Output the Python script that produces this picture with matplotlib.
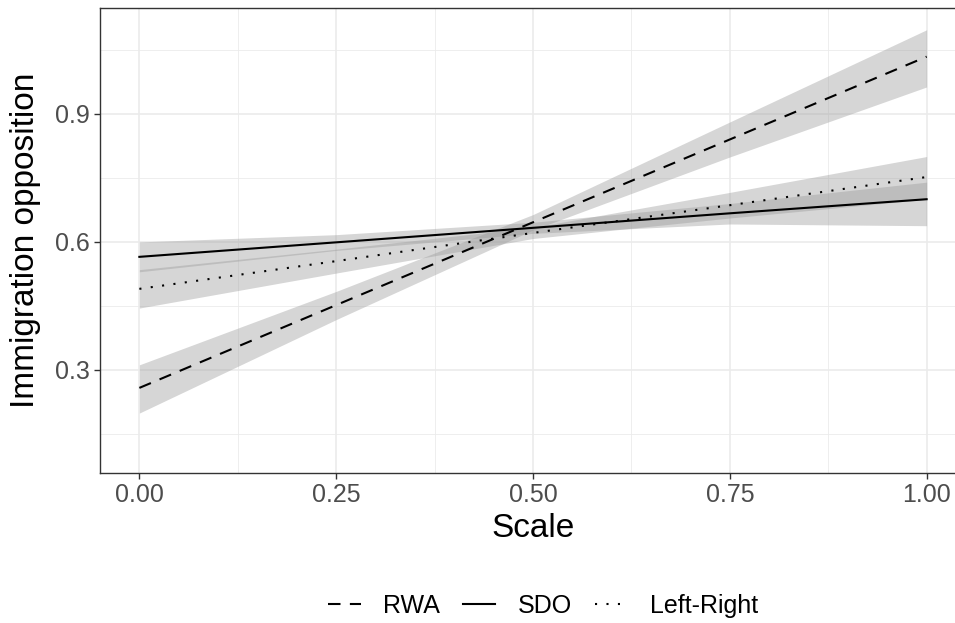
import numpy as np
import matplotlib
matplotlib.use("Agg")
import matplotlib.pyplot as plt
from matplotlib.lines import Line2D

plt.rcParams['font.family'] = ['Liberation Sans', 'DejaVu Sans']

# predicted values
x = [0.0, 0.25, 0.5, 0.75, 1.0]
rwa_fit = [0.258, 0.452, 0.646, 0.840, 1.034]
rwa_lo = [0.199, 0.418, 0.628, 0.799, 0.963]
rwa_hi = [0.312, 0.484, 0.664, 0.881, 1.097]
sdo_fit = [0.565, 0.599, 0.633, 0.667, 0.700]
sdo_lo = [0.530, 0.580, 0.620, 0.642, 0.638]
sdo_hi = [0.600, 0.617, 0.646, 0.690, 0.740]
lr_fit = [0.490, 0.555, 0.621, 0.686, 0.752]
lr_lo = [0.445, 0.527, 0.608, 0.656, 0.700]
lr_hi = [0.535, 0.583, 0.634, 0.716, 0.800]

x_ticks = [0.0, 0.25, 0.5, 0.75, 1.0]
x_labels = ["0.00", "0.25", "0.50", "0.75", "1.00"]
y_ticks = [0.3, 0.6, 0.9]
y_labels = ["0.3", "0.6", "0.9"]

DASHED = (0, (6, 4.5))
DOTTED = (0, (1, 4.5))

fig = plt.figure(figsize=(9.55, 6.23), dpi=100)
ax = fig.add_axes([100 / 955, 1 - 473 / 623, 866 / 955, 465 / 623])

for lo, hi in [(rwa_lo, rwa_hi), (sdo_lo, sdo_hi), (lr_lo, lr_hi)]:
    ax.fill_between(x, lo, hi, color="0.6", alpha=0.4, linewidth=0, zorder=2)

ax.plot(x, rwa_fit, color="black", lw=1.5, linestyle=DASHED, zorder=3)
ax.plot(x, sdo_fit, color="black", lw=1.5, linestyle="-", zorder=3)
ax.plot(x, lr_fit, color="black", lw=1.5, linestyle=DOTTED, zorder=3)

ax.set_xlim(-0.05, 1.05)
ax.set_ylim(0.0586, 1.148)
ax.set_xticks(x_ticks)
ax.set_xticklabels(x_labels)
ax.set_yticks(y_ticks)
ax.set_yticklabels(y_labels)
ax.set_xticks([0.125, 0.375, 0.625, 0.875], minor=True)
ax.set_yticks([0.15, 0.45, 0.75, 1.05], minor=True)

ax.grid(which="major", color="#ebebeb", lw=1.2, zorder=0)
ax.grid(which="minor", color="#ebebeb", lw=0.6, zorder=0)
ax.set_axisbelow(True)
ax.tick_params(which="major", length=4.5, width=1, color="#333333",
               labelsize=18, labelcolor="#4d4d4d", pad=3)
ax.tick_params(which="minor", length=0)
for s in ax.spines.values():
    s.set_color("#333333")
    s.set_linewidth(1)

ax.set_xlabel("Scale", fontsize=24, labelpad=4)
ax.set_ylabel("Immigration opposition", fontsize=24, labelpad=10)

handles = [
    Line2D([], [], color="black", lw=1.5, linestyle=DASHED),
    Line2D([], [], color="black", lw=1.5, linestyle="-"),
    Line2D([], [], color="black", lw=1.5, linestyle=DOTTED),
]
fig.legend(handles, ["RWA", "SDO", "Left-Right"], loc="center",
           bbox_to_anchor=(543 / 955, 1 - 606 / 623), ncol=3, frameon=False,
           fontsize=18, handlelength=1.3, handletextpad=0.9, columnspacing=0.9)

fig.savefig("out.png", dpi=100)
